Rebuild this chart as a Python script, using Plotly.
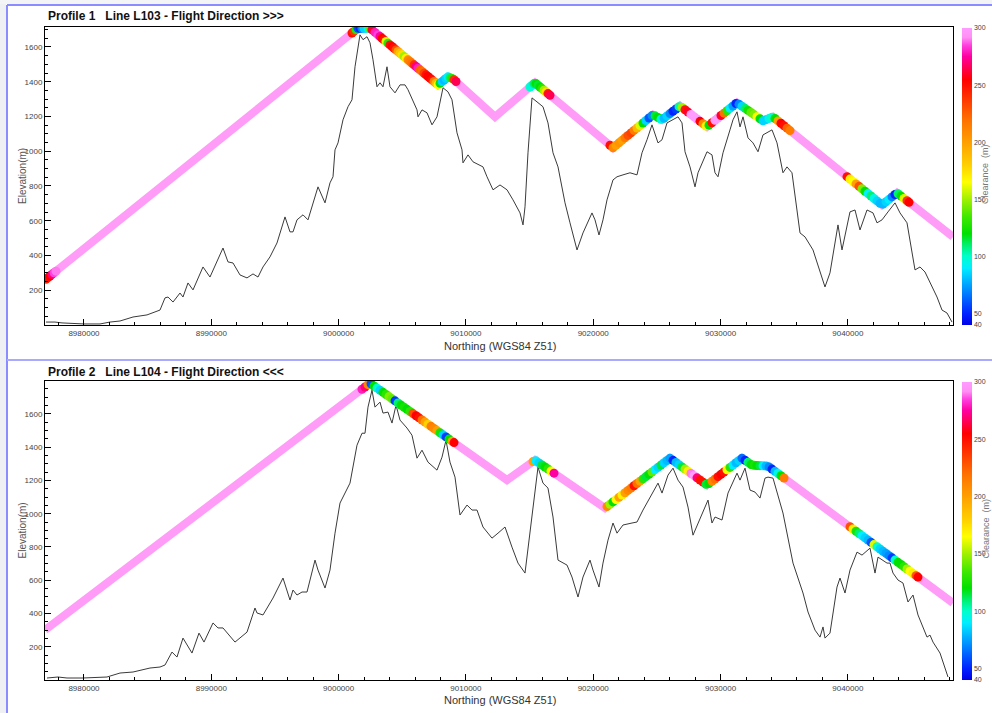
import numpy as np
import plotly.graph_objects as go

# ---------------- DATA ----------------
# Profile 1 terrain (Northing m, Elevation m)
t1_n = [8977015, 8977722, 8978272, 8979293, 8980000, 8981257, 8982042, 8982828, 8983849, 8984949,
        8985970, 8986363, 8986598, 8986991, 8987541, 8987776, 8988169, 8988562, 8989347, 8989897,
        8990918, 8991311, 8991704, 8992254, 8992804, 8993275, 8993668, 8994060, 8994610, 8995160,
        8995789, 8996181, 8996417, 8996731, 8997202, 8997595, 8998381, 8998931, 8999323, 8999559,
        8999716, 8999952, 9000345, 9000737, 9001051, 9001287, 9001680, 9001916, 9002230, 9002465,
        9002701, 9003015, 9003251, 9003486, 9003800, 9004036, 9004429, 9004822, 9005215, 9005450,
        9006158, 9006236, 9006550, 9006943, 9007335, 9007728, 9007964, 9008200, 9008592, 9008906,
        9009299, 9009692, 9009770, 9010163, 9010556, 9011341, 9011656, 9012127, 9012677, 9013227,
        9013699, 9014248, 9014484, 9014641, 9014876, 9015190, 9015583, 9016054, 9016447, 9016840,
        9017233, 9017783, 9018175, 9018725, 9019196, 9019903, 9020139, 9020453, 9020767, 9021082,
        9021553, 9021867, 9022338, 9022888, 9023438, 9023831, 9024224, 9024616, 9025088, 9025402,
        9025795, 9026266, 9026659, 9026973, 9027209, 9027602, 9027995, 9028230, 9028937, 9029329,
        9029565, 9029801, 9030194, 9030743, 9030979, 9031293, 9031529, 9031765, 9032157, 9032550,
        9032943, 9033335, 9033728, 9034042, 9034435, 9034905, 9035221, 9035613, 9036242, 9036635,
        9037263, 9037813, 9038205, 9038598, 9039226, 9039540, 9040169, 9040562, 9040955, 9041505,
        9041976, 9042290, 9042683, 9043154, 9043704, 9044098, 9044647, 9045275, 9045669, 9046061,
        9046454, 9047004, 9047397, 9047789, 9048181]
t1_e = [17, 17, 12, 6, 6, 6, 17, 23, 46, 58,
        86, 156, 161, 132, 184, 161, 242, 202, 334, 276,
        443, 363, 357, 288, 271, 294, 276, 334, 392, 472,
        622, 536, 536, 605, 634, 605, 795, 703, 818, 853,
        1008, 1048, 1181, 1256, 1296, 1486, 1670, 1642, 1659, 1624,
        1526, 1371, 1394, 1371, 1486, 1371, 1336, 1382, 1382, 1354,
        1238, 1198, 1238, 1221, 1152, 1198, 1279, 1365, 1342, 1296,
        1106, 1008, 933, 979, 939, 910, 853, 778, 806, 778,
        720, 645, 576, 680, 991, 1307, 1284, 1256, 1163, 991,
        910, 703, 588, 432, 530, 645, 605, 518, 605, 720,
        835, 853, 864, 876, 864, 991, 1066, 1152, 1048, 1066,
        1163, 1181, 1198, 1163, 997, 910, 795, 876, 997, 979,
        876, 853, 991, 1123, 1181, 1227, 1140, 1198, 1077, 1048,
        997, 1094, 1112, 1123, 1048, 876, 910, 876, 530, 507,
        432, 300, 219, 300, 576, 432, 651, 662, 547, 662,
        645, 588, 605, 651, 703, 645, 588, 317, 334, 305,
        242, 161, 86, 69, 17]

# Profile 1 flight path vertices
f1_n = [8976937, 9001523, 9002465, 9007807, 9008592, 9008985, 9012284, 9015426, 9021553, 9024694,
        9025402, 9026816, 9028937, 9031293, 9033335, 9034121, 9042683, 9043861, 9048260]
f1_e = [259, 1708, 1708, 1382, 1428, 1417, 1198, 1394, 1020, 1210,
        1181, 1261, 1141, 1279, 1175, 1198, 691, 760, 507]

# Profile 1 clearance samples (Northing m, clearance m)
c1_n = [8977015, 8977172, 8977330, 8977487, 8977644, 8977801,
        9001051, 9001209, 9001366, 9001523, 9001680, 9001837, 9001994, 9002151, 9002308, 9002465,
        9002622, 9002858, 9003094, 9003251, 9003408, 9003565, 9003722, 9003879, 9004036, 9004193,
        9004351, 9004508, 9004665, 9004822, 9004979, 9005136, 9005293, 9005450, 9005607, 9005764,
        9005922, 9006079, 9006236, 9006393, 9006550, 9006707, 9006864, 9007021, 9007178, 9007335,
        9007493, 9007650, 9007807, 9007964, 9008121, 9008278, 9008435, 9008592, 9008749, 9008906,
        9009064, 9009221,
        9015033, 9015190, 9015348, 9015505, 9015662, 9015819, 9015976, 9016133, 9016290, 9016447,
        9016604,
        9021317, 9021553, 9021789, 9022024, 9022260, 9022496, 9022731, 9022967, 9023203, 9023438,
        9023674, 9023909, 9024145, 9024381, 9024616, 9024852, 9025088, 9025323, 9025559, 9025795,
        9026030, 9026266, 9026502, 9026737, 9026973, 9027209, 9027444, 9027680, 9027916, 9028151,
        9028387, 9028622, 9028858, 9029094, 9029329, 9029565, 9029801, 9030036, 9030272, 9030508,
        9030743, 9030979, 9031215, 9031450, 9031686, 9031922, 9032157, 9032393, 9032629, 9032864,
        9033100, 9033335, 9033571, 9033807, 9034042, 9034278, 9034514, 9034749, 9034985, 9035221,
        9035456,
        9039934, 9040169, 9040405, 9040641, 9040876, 9041112, 9041348, 9041583, 9041819, 9042055,
        9042290, 9042526, 9042761, 9042997, 9043233, 9043468, 9043704, 9043940, 9044175, 9044411,
        9044647, 9044804]
c1_v = [245, 250, 255, 270, 285, 290,
        250, 240, 130, 60, 50, 70, 85, 85, 95, 140,
        260, 280, 285, 275, 255, 250, 160, 130, 250, 255,
        250, 230, 200, 185, 175, 150, 170, 210, 215, 220,
        240, 270, 280, 225, 220, 235, 250, 255, 255, 250,
        215, 190, 165, 120, 85, 80, 85, 90, 110, 130,
        240, 265,
        100, 95, 110, 120, 115, 120, 130, 150, 175, 250,
        265,
        250, 210, 200, 205, 200, 215, 230, 235, 215, 190,
        160, 120, 85, 60, 70, 115, 120, 95, 80, 85,
        70, 50, 55, 105, 150, 250, 260, 300, 300, 300,
        255, 210, 170, 120, 250, 300, 300, 260, 220, 130,
        90, 75, 50, 70, 85, 110, 125, 140, 145, 165,
        120, 85, 85, 95, 100, 120, 200, 255, 250, 225,
        215,
        250, 170, 165, 200, 230, 145, 120, 90, 110, 95,
        85, 80, 80, 85, 90, 70, 50, 110, 120, 160,
        240, 255]

# Profile 2 terrain
t2_n = [8977094, 8977958, 8978665, 8979921, 8981807, 8982828, 8983849, 8985184, 8985970, 8986363,
        8986912, 8987305, 8987776, 8988483, 8989033, 8989426, 8990133, 8990526, 8990918, 8991861,
        8992804, 8993432, 8993589, 8994060, 8994846, 8995631, 8996181, 8996417, 8996731, 8997124,
        8997517, 8998145, 8998381, 8998931, 8999323, 8999716, 9000109, 9000894, 9001444, 9001837,
        9002073, 9002308, 9002622, 9002858, 9003251, 9003486, 9003879, 9004193, 9004508, 9004822,
        9005372, 9005764, 9006158, 9006550, 9007021, 9007728, 9008121, 9008435, 9008749, 9009142,
        9009535, 9010085, 9010477, 9010870, 9011341, 9012048, 9012520, 9013070, 9013619, 9014091,
        9014641, 9015033, 9015662, 9016054, 9016447, 9016840, 9017233, 9017940, 9018332, 9018804,
        9019196, 9019746, 9019982, 9020453, 9020767, 9021160, 9021553, 9021867, 9022338, 9023045,
        9023438, 9023909, 9024616, 9025088, 9025402, 9025874, 9026266, 9026659, 9027052, 9027444,
        9027837, 9028230, 9028780, 9029016, 9029329, 9029565, 9030115, 9030586, 9031293, 9031529,
        9031922, 9032315, 9032707, 9033100, 9033493, 9033728, 9034121, 9034435, 9034905, 9035692,
        9036477, 9036870, 9037420, 9037813, 9038049, 9038206, 9038598, 9039148, 9039384, 9039777,
        9040169, 9040719, 9041112, 9041740, 9042133, 9042369, 9043076, 9043311, 9043547, 9043940,
        9044333, 9044725, 9045118, 9045511, 9045904, 9046218, 9046454, 9046690, 9047240, 9047633,
        9047868]
t2_e = [12, 18, 12, 12, 18, 42, 48, 72, 78, 90,
        168, 138, 252, 162, 282, 228, 343, 313, 313, 228,
        288, 433, 403, 391, 493, 613, 481, 541, 511, 529,
        529, 721, 661, 553, 661, 883, 1064, 1184, 1412, 1484,
        1484, 1641, 1743, 1641, 1671, 1605, 1611, 1545, 1653, 1563,
        1515, 1472, 1334, 1382, 1310, 1262, 1340, 1442, 1310, 1220,
        992, 1052, 1022, 1022, 920, 853, 883, 920, 799, 703,
        643, 901, 1280, 1184, 1154, 980, 721, 691, 619, 499,
        619, 721, 661, 559, 703, 841, 944, 883, 932, 944,
        950, 1022, 1124, 1184, 1124, 1232, 1274, 1202, 1160, 1040,
        871, 944, 1040, 1082, 944, 980, 962, 1124, 1244, 1202,
        1274, 1142, 1130, 1094, 1214, 1220, 1214, 1124, 1004, 703,
        523, 409, 300, 258, 319, 252, 282, 559, 613, 523,
        661, 769, 751, 793, 643, 739, 703, 703, 643, 601,
        583, 469, 511, 391, 319, 258, 270, 228, 162, 72,
        18]

# Profile 2 flight path vertices
f2_n = [8976937, 9002465, 9013227, 9015426, 9020925, 9026030, 9028937, 9031686, 9032471, 9033728,
        9048260]
f2_e = [300, 1785, 1202, 1322, 1034, 1334, 1172, 1334, 1292, 1286,
        463]

# Profile 2 clearance samples
c2_n = [9001837, 9002073, 9002308, 9002544, 9002780, 9003015, 9003251, 9003486, 9003722, 9003958,
        9004193, 9004429, 9004665, 9004900, 9005136, 9005372, 9005607, 9005843, 9006079, 9006314,
        9006550, 9006786, 9007021, 9007257, 9007493, 9007728, 9007964, 9008200, 9008435, 9008671,
        9008906, 9009064,
        9015269, 9015505, 9015740, 9015976, 9016212, 9016447, 9016683, 9016919,
        9021082, 9021317, 9021553, 9021789, 9022024, 9022260, 9022496, 9022731, 9022967, 9023203,
        9023438, 9023674, 9023909, 9024145, 9024381, 9024616, 9024852, 9025088, 9025323, 9025559,
        9025795, 9026030, 9026266, 9026502, 9026737, 9026973, 9027209, 9027444, 9027680, 9027916,
        9028151, 9028387, 9028622, 9028858, 9029094, 9029329, 9029565, 9029801, 9030036, 9030272,
        9030508, 9030743, 9030979, 9031215, 9031450, 9031686, 9031922, 9032157, 9032393, 9032629,
        9032864, 9033100, 9033335, 9033571, 9033807, 9034042, 9034278, 9034514, 9034749, 9034985,
        9040169, 9040405, 9040641, 9040876, 9041112, 9041348, 9041583, 9041819, 9042055, 9042290,
        9042526, 9042761, 9042997, 9043233, 9043468, 9043704, 9043940, 9044175, 9044411, 9044647,
        9044882, 9045118, 9045354, 9045511]
c2_v = [280, 270, 210, 60, 120, 100, 85, 120, 130, 145,
        140, 55, 110, 120, 125, 120, 130, 230, 255, 250,
        220, 200, 180, 215, 210, 200, 125, 85, 55, 120,
        200, 255,
        200, 90, 85, 115, 120, 130, 165, 275,
        210, 150, 120, 165, 200, 170, 200, 210, 215, 250,
        220, 200, 130, 115, 120, 140, 90, 85, 115, 85,
        80, 75, 50, 80, 85, 115, 150, 170, 290, 300,
        270, 250, 250, 115, 120, 210, 220, 250, 255, 250,
        165, 130, 90, 80, 85, 65, 50, 110, 120, 125,
        120, 115, 90, 80, 70, 50, 80, 95, 120, 215,
        230, 170, 125, 110, 90, 85, 80, 60, 160, 100,
        85, 80, 75, 70, 55, 100, 120, 120, 130, 150,
        165, 170, 230, 255]

x_ticks = [8980000, 8990000, 9000000, 9010000, 9020000, 9030000, 9040000]
y_ticks = [200, 400, 600, 800, 1000, 1200, 1400, 1600]
cb_ticks = [40, 50, 100, 150, 200, 250, 300]
titles = ["Profile 1   Line L103 - Flight Direction >>>",
          "Profile 2   Line L104 - Flight Direction <<<"]

# ---------------- STYLE ----------------
W, H = 992, 713
def px(x): return x / W
def py(y): return 1 - y / H

PINK = "#ff9cf8"
NARROW = "Liberation Sans Narrow, Arial Narrow, Liberation Sans, Arial"
REG = "Liberation Sans, Arial"

cscale = [
    [0.000, "#0000e6"], [0.038, "#0022ff"], [0.077, "#0055ff"], [0.115, "#0088ff"],
    [0.154, "#00bbff"], [0.192, "#00eeff"], [0.231, "#00ffcc"], [0.269, "#00f070"],
    [0.308, "#00e000"], [0.365, "#40e800"], [0.423, "#a0f000"], [0.481, "#ffff00"],
    [0.538, "#ffd000"], [0.615, "#ffa000"], [0.692, "#ff7000"], [0.769, "#ff3000"],
    [0.827, "#ff0000"], [0.865, "#ff0050"], [0.904, "#ff00a0"], [0.942, "#ff40e0"],
    [0.969, "#ff90f5"], [1.000, "#ff9cff"],
]

fig = go.Figure()

profiles = [
    (t1_n, t1_e, f1_n, f1_e, c1_n, c1_v, "x", "y", "coloraxis"),
    (t2_n, t2_e, f2_n, f2_e, c2_n, c2_v, "x2", "y2", "coloraxis2"),
]
for tn, te, fn, fe, cn, cv, xa, ya, ca in profiles:
    fig.add_trace(go.Scatter(x=tn, y=te, mode="lines", xaxis=xa, yaxis=ya,
                             line=dict(color="#3a3a3a", width=1), hoverinfo="skip",
                             showlegend=False))
    fig.add_trace(go.Scatter(x=fn, y=fe, mode="lines", xaxis=xa, yaxis=ya,
                             line=dict(color=PINK, width=8), hoverinfo="skip",
                             showlegend=False))
    cy = np.interp(cn, fn, fe)
    fig.add_trace(go.Scatter(x=cn, y=cy, mode="markers", xaxis=xa, yaxis=ya,
                             marker=dict(size=9, color=cv, coloraxis=ca, line=dict(width=0)),
                             hoverinfo="skip", showlegend=False))

panels = [  # (top px, bottom px, ymax)
    (27, 325, 1715),
    (381, 680, 1798),
]

def xaxis_cfg(anchor):
    return dict(domain=[px(45), px(953)], range=[8976937, 9048260], anchor=anchor,
                tickvals=x_ticks, tickformat="d", ticks="inside", ticklen=6,
                tickcolor="#000", showline=True, linecolor="#000", linewidth=1, mirror=True,
                showgrid=False, zeroline=False,
                tickfont=dict(family=NARROW, size=8, color="#444"),
                minor=dict(dtick=2000, ticks="inside", ticklen=3, tickcolor="#000"))

def yaxis_cfg(anchor, top, bot, ymax):
    return dict(domain=[py(bot), py(top)], range=[0, ymax], anchor=anchor,
                tickvals=y_ticks, ticks="inside", ticklen=6, tickcolor="#000",
                showline=True, linecolor="#000", linewidth=1, mirror=True,
                showgrid=False, zeroline=False,
                tickfont=dict(family=NARROW, size=8, color="#444"),
                minor=dict(dtick=50, ticks="inside", ticklen=3, tickcolor="#000"))

def caxis(top, bot):
    return dict(cmin=40, cmax=300, colorscale=cscale,
                colorbar=dict(x=px(962), xanchor="left", thickness=10, thicknessmode="pixels",
                              y=py((top + bot) / 2), yanchor="middle",
                              len=(bot - top) / H, lenmode="fraction",
                              tickvals=cb_ticks, ticks="", outlinewidth=0,
                              xpad=0, ypad=0,
                              tickfont=dict(family=NARROW, size=7, color="#444")))

shapes = [
    dict(type="rect", xref="paper", yref="paper", x0=0, x1=px(6), y0=0, y1=1,
         fillcolor="#eef0f3", line=dict(width=0), layer="below"),
    dict(type="rect", xref="paper", yref="paper", x0=0, x1=1, y0=py(4), y1=1,
         fillcolor="#f3f4f6", line=dict(width=0), layer="below"),
    dict(type="line", xref="paper", yref="paper", x0=px(7), x1=px(7), y0=0, y1=py(5),
         line=dict(color="#8a8cff", width=2)),
    dict(type="line", xref="paper", yref="paper", x0=px(7), x1=1, y0=py(5), y1=py(5),
         line=dict(color="#8a8cff", width=2)),
    dict(type="line", xref="paper", yref="paper", x0=px(7), x1=1, y0=py(360), y1=py(360),
         line=dict(color="#a9a9ff", width=2)),
]

annotations = []
for (top, bot, ymax), title, tly, xly in zip(panels, titles, [16, 372], [346, 700]):
    annotations.append(dict(text="<b>%s</b>" % title, xref="paper", yref="paper",
                            x=px(46), y=py(tly), xanchor="left", yanchor="middle",
                            showarrow=False, font=dict(family=NARROW, size=12, color="#111")))
    annotations.append(dict(text="Elevation(m)", xref="paper", yref="paper",
                            x=px(22), y=py((top + bot) / 2), textangle=-90,
                            xanchor="center", yanchor="middle", showarrow=False,
                            font=dict(family=REG, size=10, color="#555")))
    annotations.append(dict(text="Northing (WGS84 Z51)", xref="paper", yref="paper",
                            x=px(500), y=py(xly), xanchor="center", yanchor="middle",
                            showarrow=False, font=dict(family=NARROW, size=11, color="#333")))
    annotations.append(dict(text="Clearance  (m)", xref="paper", yref="paper",
                            x=px(992), y=py((top + bot) / 2 - 2), textangle=-90,
                            xanchor="right", yanchor="middle", showarrow=False,
                            font=dict(family=REG, size=9, color="#777")))

fig.update_layout(
    width=W, height=H, margin=dict(l=0, r=0, t=0, b=0, autoexpand=False),
    paper_bgcolor="white", plot_bgcolor="white",
    xaxis=xaxis_cfg("y"), yaxis=yaxis_cfg("x", *panels[0]),
    xaxis2=xaxis_cfg("y2"), yaxis2=yaxis_cfg("x2", *panels[1]),
    coloraxis=caxis(28, 325), coloraxis2=caxis(382, 680),
    shapes=shapes, annotations=annotations, showlegend=False,
)

fig.write_html("out.html")
